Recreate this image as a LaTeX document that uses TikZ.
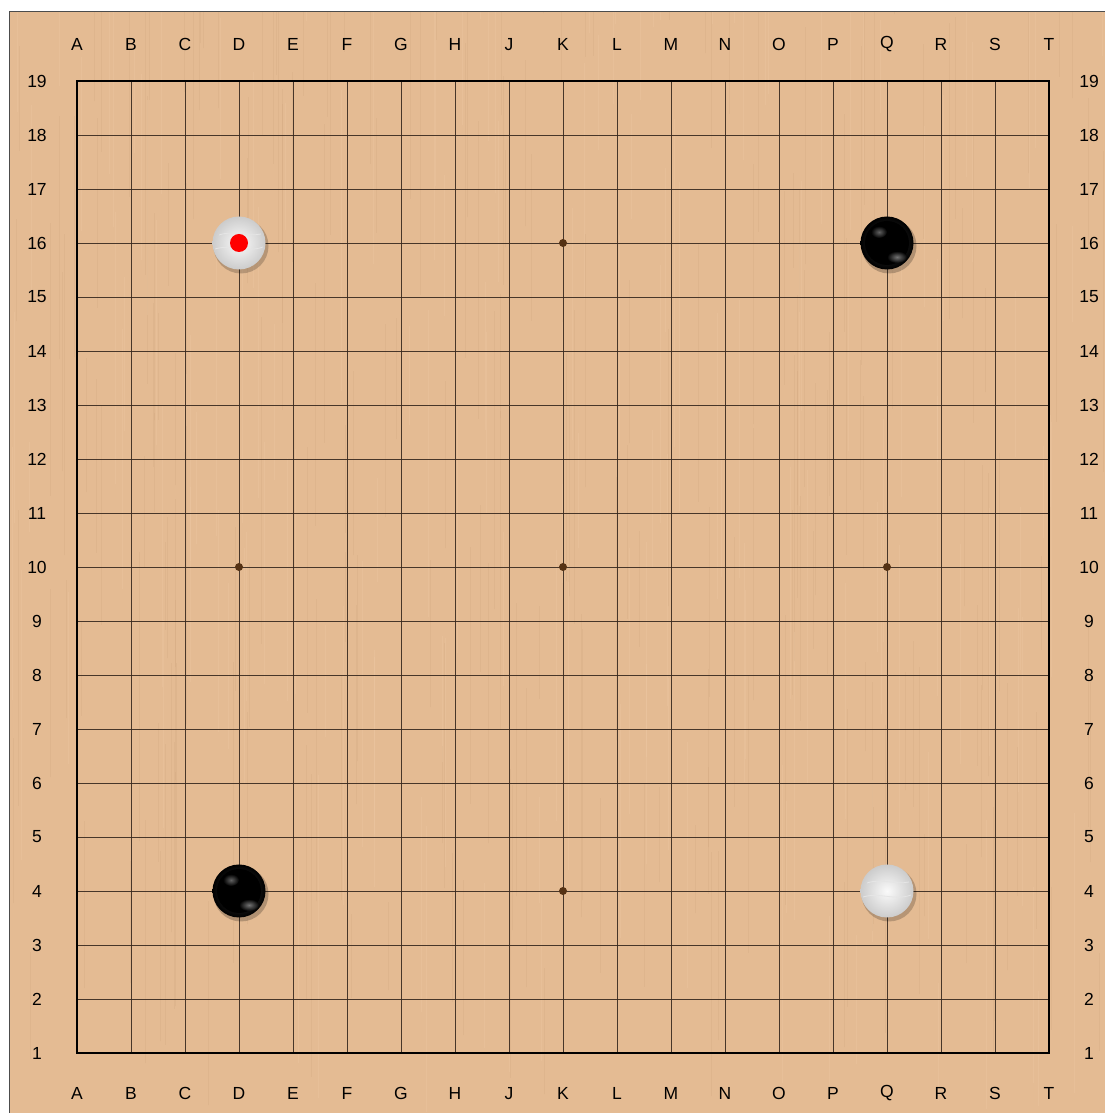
\documentclass[tikz,border=0pt]{standalone}
\usepackage{fontspec}
\setmainfont{Liberation Sans}
\usetikzlibrary{calc}
\definecolor{wood}{RGB}{228,187,147}
\definecolor{woodline}{RGB}{200,158,118}
\definecolor{woodlight}{RGB}{240,205,170}
\definecolor{gridc}{RGB}{55,40,30}
\definecolor{starc}{RGB}{85,50,20}
\tikzset{
  gline/.style={draw=gridc, line width=0.9pt, opacity=0.9},
  gborder/.style={draw=black, line width=2.2pt},
  coordlabel/.style={font=\fontsize{17.5}{17.5}\selectfont, text=black, inner sep=0pt},
  starpt/.style={fill=starc},
}
\begin{document}
\begin{tikzpicture}[x=1pt,y=1pt]
\useasboundingbox (0,0) rectangle (1105,1113);
\fill[white] (0,0) rectangle (1105,1113);
% wood board
\fill[wood] (9,0) rectangle (1105,1101);
\pgfmathsetseed{7}
\foreach \k in {1,...,220}{
  \pgfmathsetmacro{\xx}{9+1096*rnd}
  \pgfmathsetmacro{\yy}{1101*rnd}
  \pgfmathsetmacro{\ll}{80+250*rnd}
  \draw[woodline, line width=0.7pt, opacity=0.18] (\xx,\yy) -- (\xx,{min(\yy+\ll,1101)});
}
\foreach \k in {1,...,160}{
  \pgfmathsetmacro{\xx}{9+1096*rnd}
  \pgfmathsetmacro{\yy}{1101*rnd}
  \pgfmathsetmacro{\ll}{80+250*rnd}
  \draw[woodlight, line width=1pt, opacity=0.25] (\xx,\yy) -- (\xx,{min(\yy+\ll,1101)});
}
\draw[black!70, line width=1pt] (9,0) -- (9,1101) -- (1105,1101);
% grid
\foreach \i in {1,...,17}{
  \draw[gline] ({77+54*\i},60) -- ({77+54*\i},1032);
  \draw[gline] (77,{60+54*\i}) -- (1049,{60+54*\i});
}
\draw[gborder] (77,60) rectangle (1049,1032);
% star points
\foreach \c in {3,9,15}{
  \foreach \r in {4,10,16}{
    \fill[starpt] ({77+54*\c},{60+54*(\r-1)}) circle (4);
  }
}
% coordinate labels
\foreach \l [count=\n from 0] in {A,B,C,D,E,F,G,H,J,K,L,M,N,O,P,Q,R,S,T}{
  \node[coordlabel] (top\l) at ({77+54*\n},1068.5) {\l};
  \node[coordlabel] (bot\l) at ({77+54*\n},19.5) {\l};
}
\foreach \r in {1,...,19}{
  \node[coordlabel] (left\r) at (37,{60+54*(\r-1)}) {\r};
  \node[coordlabel] (right\r) at (1089,{60+54*(\r-1)}) {\r};
}
% stones
\newcommand{\blackstone}[2]{%
  \fill[black, opacity=0.22] ($(#1,#2)+(2,-3)$) circle (27.5);
  \shade[inner color=black!75, outer color=black] (#1,#2) circle (26.5);
  \fill[black] (#1,#2) circle (22);
  \begin{scope}
    \clip (#1,#2) circle (26);
    \shade[inner color=black!45, outer color=black, opacity=0.7] ($(#1,#2)+(-8,11)$) ellipse (8 and 6);
    \shade[inner color=black!35, outer color=black, opacity=0.7] ($(#1,#2)+(10,-14)$) ellipse (10 and 6);
  \end{scope}
}
\newcommand{\whitestone}[2]{%
  \fill[black, opacity=0.2] ($(#1,#2)+(2,-3)$) circle (27.5);
  \shade[inner color=white!98!black, outer color=black!20] (#1,#2) circle (26.5);
  \draw[black!10, line width=0.8pt] ($(#1,#2)+(-20,8)$) .. controls ($(#1,#2)+(-5,13)$) and ($(#1,#2)+(8,6)$) .. ($(#1,#2)+(22,9)$);
  \draw[black!10, line width=0.8pt] ($(#1,#2)+(-24,-6)$) .. controls ($(#1,#2)+(-8,-1)$) and ($(#1,#2)+(8,-10)$) .. ($(#1,#2)+(24,-4)$);
}
\blackstone{887}{870}
\blackstone{239}{222}
\whitestone{239}{870}
\whitestone{887}{222}
\fill[red] (239,870) circle (9) node (lastmove) {};
\end{tikzpicture}
\end{document}
